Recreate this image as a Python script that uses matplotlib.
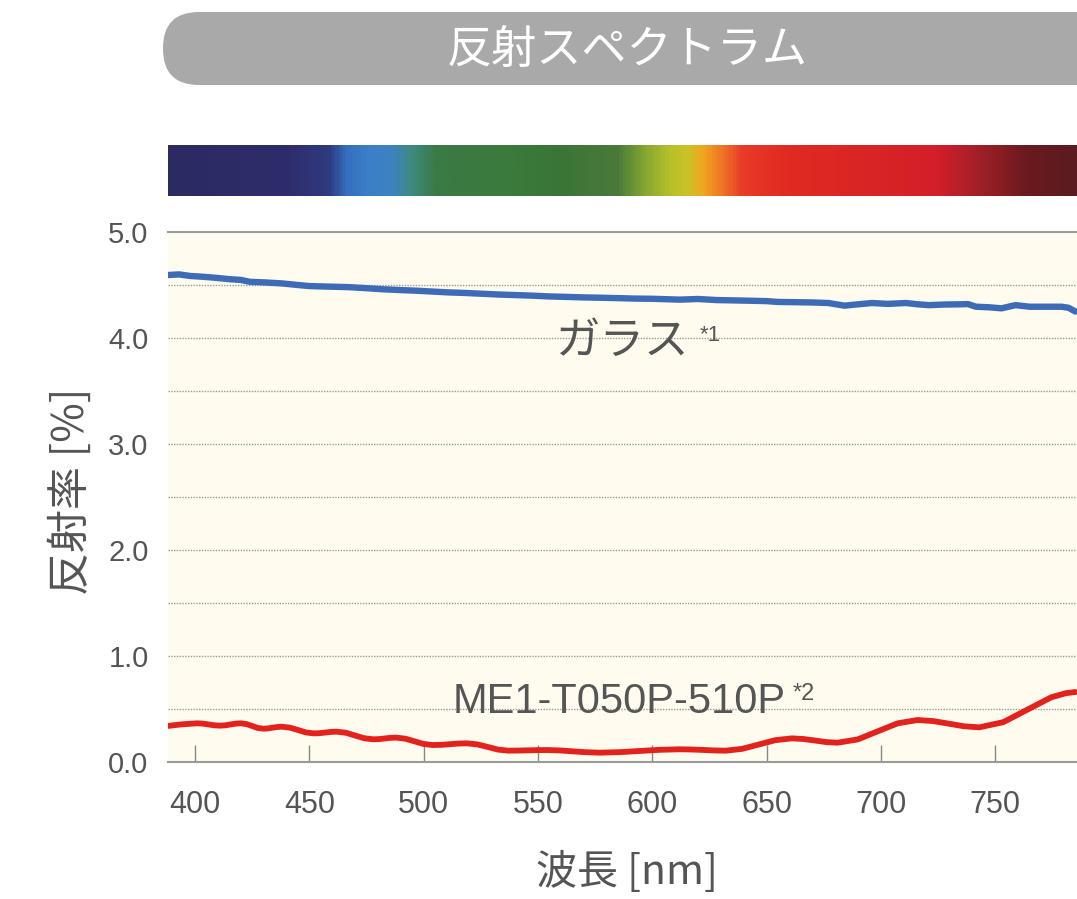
import numpy as np
import matplotlib
matplotlib.use('Agg')
import matplotlib.pyplot as plt
from matplotlib.colors import LinearSegmentedColormap
from matplotlib.patches import FancyBboxPatch

# datos
glass_nm = [388, 393, 398, 402, 408, 415, 420, 424, 430, 438, 445, 450, 458, 467,
            475, 482, 490, 497, 504, 511, 518, 525, 533, 540, 547, 555, 562, 570,
            577, 585, 592, 600, 606, 612, 620, 628, 635, 642, 650, 655, 662, 670,
            677, 684, 690, 696, 703, 711, 716, 721, 728, 735, 738, 741.5, 747,
            752.7, 758.8, 765, 772, 779, 782, 785]
glass_val = [4.594, 4.600, 4.585, 4.580, 4.570, 4.555, 4.548, 4.530, 4.525, 4.515,
             4.500, 4.490, 4.485, 4.480, 4.470, 4.460, 4.452, 4.446, 4.438, 4.430,
             4.425, 4.418, 4.410, 4.405, 4.400, 4.392, 4.388, 4.383, 4.380, 4.376,
             4.372, 4.370, 4.366, 4.362, 4.368, 4.358, 4.355, 4.352, 4.348, 4.340,
             4.338, 4.335, 4.330, 4.305, 4.318, 4.330, 4.322, 4.330, 4.318, 4.310,
             4.316, 4.318, 4.320, 4.295, 4.290, 4.280, 4.310, 4.295, 4.295, 4.295,
             4.285, 4.250]

me1_nm = [388, 394, 401, 403.5, 406, 408.5, 411, 413.3, 415.5, 417.8, 420, 422.5,
          425, 427.5, 430, 432, 434, 436, 438, 441.5, 445, 448.5, 452, 454.5, 457,
          459.5, 462, 466, 470, 474, 478, 480.5, 483, 485.5, 488, 492, 496, 500,
          504, 507.8, 511.5, 515.3, 519, 523.5, 528, 532.5, 537, 541.3, 545.5,
          549.8, 554, 559.8, 565.5, 571.3, 577, 585.8, 594.5, 603.3, 612, 617, 622,
          627, 632, 639.3, 646.5, 653.8, 661, 666, 671, 676, 681, 689.8, 698.5,
          707.3, 716, 722.8, 729.5, 736.3, 743, 753.5, 764, 774.5, 781, 785]
me1_val = [0.340, 0.355, 0.365, 0.362, 0.354, 0.346, 0.343, 0.346, 0.354, 0.362,
           0.365, 0.358, 0.340, 0.321, 0.314, 0.317, 0.324, 0.330, 0.333, 0.324,
           0.302, 0.279, 0.270, 0.272, 0.278, 0.284, 0.286, 0.276, 0.250, 0.224,
           0.214, 0.216, 0.222, 0.228, 0.230, 0.220, 0.195, 0.170, 0.160, 0.162,
           0.168, 0.174, 0.176, 0.166, 0.142, 0.117, 0.107, 0.108, 0.110, 0.112,
           0.113, 0.109, 0.100, 0.092, 0.088, 0.093, 0.104, 0.115, 0.120, 0.118,
           0.114, 0.109, 0.107, 0.124, 0.165, 0.206, 0.223, 0.217, 0.203, 0.188,
           0.182, 0.213, 0.289, 0.365, 0.396, 0.386, 0.362, 0.337, 0.327, 0.376,
           0.494, 0.611, 0.650, 0.660]

spec_nm = [388, 440, 458, 466, 476, 486, 494, 505, 540, 560, 585, 598, 608, 615,
           622, 630, 640, 660, 700, 725, 742, 765, 786]
spec_col = ['#2c2a62', '#2e2d6c', '#2f3a80', '#3570c0', '#3b80c8', '#3d82c0',
            '#3e8a80', '#3a7a45', '#3b7a3a', '#3a7536', '#4a7a3a', '#8aaa30',
            '#b8c02a', '#c8c428', '#f0a820', '#ee7a25', '#e83a28', '#e02a22',
            '#d82424', '#d41e2a', '#a52028', '#6a1a1e', '#5a1c20']

x_ticks = [400, 450, 500, 550, 600, 650, 700, 750]
y_ticks = [0, 1, 2, 3, 4, 5]
y_grid = [0.5, 1.5, 2.5, 3.5, 4.5]

XMIN, XMAX = 388.2, 785.7
TXT = '#555555'
JP = ['Noto Sans CJK JP', 'DejaVu Sans']
LAT = ['Liberation Sans', 'DejaVu Sans']

fig = plt.figure(figsize=(10.77, 8.99), dpi=100)

# capa de fondo en pixeles para el titulo
bg = fig.add_axes([0, 0, 1, 1], zorder=-1)
bg.set_xlim(0, 1077)
bg.set_ylim(899, 0)
bg.axis('off')
pill = FancyBboxPatch((163, 12), 960, 73, boxstyle='round,pad=0,rounding_size=36',
                      facecolor='#a9a9a9', edgecolor='none')
bg.add_patch(pill)
bg.text(627, 50, '反射スペクトラム', color='white', fontsize=32.5, ha='center',
        va='center', family=JP)

# barra de espectro
L, W = 168 / 1077, 909 / 1077
axs = fig.add_axes([L, 1 - 196 / 899, W, 51 / 899])
s0, s1 = spec_nm[0], spec_nm[-1]
cmap = LinearSegmentedColormap.from_list(
    'spec', [((n - s0) / (s1 - s0), c) for n, c in zip(spec_nm, spec_col)])
axs.imshow(np.linspace(XMIN, XMAX, 600)[None, :], aspect='auto', cmap=cmap,
           vmin=s0, vmax=s1, extent=[XMIN, XMAX, 0, 1])
axs.set_xlim(XMIN, XMAX)
axs.axis('off')

# grafico principal
ax = fig.add_axes([L, 1 - 762 / 899, W, 530 / 899])
ax.set_facecolor('#fffcef')
ax.set_xlim(XMIN, XMAX)
ax.set_ylim(0, 5)

for g in y_ticks[1:-1] + y_grid:
    ax.axhline(g, color='#9a9a9a', lw=1, ls=(0, (1, 1)), zorder=1)

ax.plot(glass_nm, glass_val, color='#3d6bb5', lw=4.6, solid_capstyle='round',
        solid_joinstyle='round', zorder=3)
ax.plot(me1_nm, me1_val, color='#e2231d', lw=4.2, solid_capstyle='round',
        solid_joinstyle='round', zorder=3)

for s in ['left', 'right']:
    ax.spines[s].set_visible(False)
for s in ['top', 'bottom']:
    ax.spines[s].set_color('#9a9a9a')
    ax.spines[s].set_linewidth(1.5)

ax.set_xticks(x_ticks)
ax.set_yticks(y_ticks)
ax.set_yticklabels([f'{v:.1f}' for v in y_ticks])
ax.tick_params(axis='x', direction='in', length=12, width=1, color='#888888',
               labelsize=22, labelcolor=TXT, pad=20)
ax.tick_params(axis='y', length=0, labelsize=21, labelcolor=TXT, pad=14)
for t in ax.get_xticklabels() + ax.get_yticklabels():
    t.set_family(LAT)

ax.set_xlabel('波長 [nm]', fontsize=29.5, color=TXT, family=JP, va='center')
ax.xaxis.set_label_coords(0.505, -0.207)
ax.set_ylabel('反射率 [%]', fontsize=31, color=TXT, family=JP, va='center')
ax.yaxis.set_label_coords(-0.106, 0.51)

# etiquetas de series
ax.text(557.5, 3.97, 'ガラス', fontsize=32, color=TXT, family=JP, ha='left', va='center')
ax.text(620.5, 4.02, '*1', fontsize=16, color=TXT, family=LAT, ha='left', va='center')
ax.text(512.8, 0.462, 'ME1-T050P-510P', fontsize=30, color=TXT, family=LAT,
        ha='left', va='baseline')
ax.text(661.5, 0.745, '*2', fontsize=17, color=TXT, family=LAT, ha='left', va='top')

fig.savefig('out.png', dpi=100)
